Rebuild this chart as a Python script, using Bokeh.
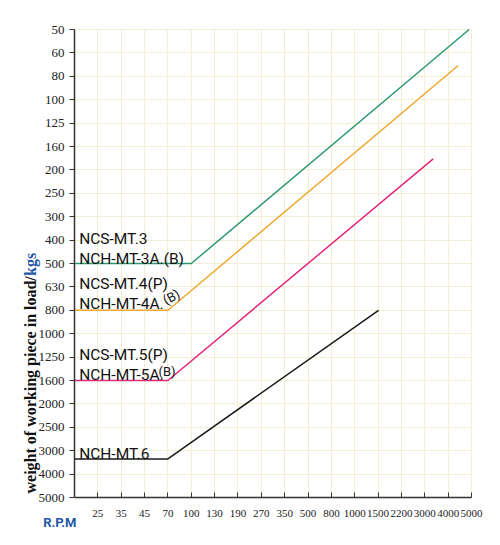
import math
from bokeh.plotting import figure
from bokeh.models import Range1d, FixedTicker, Label, LinearAxis, Grid
from bokeh.embed import file_html
from bokeh.resources import INLINE

# ---- data (axis positions are tick indices; ticks are evenly spaced) ----
rpm_labels = ["25", "35", "45", "70", "100", "130", "190", "270", "350", "500",
              "800", "1000", "1500", "2200", "3000", "4000", "5000"]
load_labels = ["50", "60", "80", "100", "125", "160", "200", "250", "300", "400",
               "500", "630", "800", "1000", "1250", "1600", "2000", "2500", "3000",
               "4000", "5000"]

mt3_x = [0, 5, 16.9]
mt3_y = [10, 10, 0.0]
mt4_x = [0, 4, 16.43]
mt4_y = [12, 12, 1.54]
mt5_x = [0, 4, 15.36]
mt5_y = [15, 15, 5.53]
mt6_x = [0, 4, 13.02]
mt6_y = [18.35, 18.35, 12.0]

# ---- layout geometry (pixels) ----
W, H = 492, 537
left, top = 74, 29
nx = len(rpm_labels)          # 17 x steps
ny = len(load_labels) - 1     # 20 y steps
ux = 397 / nx
uy = 468 / ny

p = figure(frame_width=W, frame_height=H,
           x_range=Range1d(-left / ux, (W - left) / ux),
           y_range=Range1d((H - top) / uy, -top / uy),
           output_backend="svg", toolbar_location=None,
           x_axis_location=None, y_axis_location=None, min_border=0)
p.outline_line_color = None
p.background_fill_color = "white"
p.border_fill_color = "white"
p.xgrid.visible = False
p.ygrid.visible = False

xt = list(range(1, nx + 1))
yt = list(range(0, ny + 1))

grid_color = "#f2efd4"
if "cross_bounds" in Grid.properties():
    p.add_layout(Grid(dimension=0, ticker=FixedTicker(ticks=xt), bounds=(0, nx),
                      cross_bounds=(0, ny), grid_line_color=grid_color))
    p.add_layout(Grid(dimension=1, ticker=FixedTicker(ticks=yt), bounds=(0, ny),
                      cross_bounds=(0, nx), grid_line_color=grid_color))
else:
    p.segment(x0=xt, y0=[0] * len(xt), x1=xt, y1=[ny] * len(xt),
              line_color=grid_color, line_width=1)
    p.segment(x0=[0] * len(yt), y0=yt, x1=[nx] * len(yt), y1=yt,
              line_color=grid_color, line_width=1)

xaxis = LinearAxis(fixed_location=ny, bounds=(0, nx), ticker=FixedTicker(ticks=xt),
                   major_label_overrides={i + 1: s for i, s in enumerate(rpm_labels)})
yaxis = LinearAxis(fixed_location=0, bounds=(0, ny), ticker=FixedTicker(ticks=yt),
                   major_label_overrides={i: s for i, s in enumerate(load_labels)})
for ax in (xaxis, yaxis):
    ax.axis_line_color = "#333333"
    ax.axis_line_width = 1.5
    ax.major_tick_line_color = "#333333"
    ax.major_tick_line_width = 1
    ax.minor_tick_line_color = None
    ax.major_label_text_font = "Liberation Serif"
    ax.major_label_text_color = "#222222"
xaxis.major_tick_in = 5
xaxis.major_tick_out = 0
xaxis.major_label_standoff = 12
xaxis.major_label_text_font_size = "11px"
yaxis.major_tick_in = 0
yaxis.major_tick_out = 5
yaxis.major_label_standoff = 5
yaxis.major_label_text_font_size = "13px"
p.add_layout(xaxis, "below")
p.add_layout(yaxis, "left")

p.line(mt3_x, mt3_y, line_color="#2e9a70", line_width=1.5)
p.line(mt4_x, mt4_y, line_color="#f0a830", line_width=1.5)
p.line(mt5_x, mt5_y, line_color="#e0287a", line_width=1.5)
p.line(mt6_x, mt6_y, line_color="#1a1a1a", line_width=1.5)

fnt = "Roboto"
fs = "15.5px"
def lab(x, y, t, size=fs, angle=0.0, color="#111111", font=fnt, style="normal"):
    p.add_layout(Label(x=x, y=y, text=t, text_font=font, text_font_size=size,
                       text_color=color, text_baseline="middle",
                       text_align="left", angle=angle, text_font_style=style))

lab(0.2, 8.95, "NCS-MT.3")
lab(0.2, 9.81, "NCH-MT-3A.(B)")
lab(0.2, 10.88, "NCS-MT.4(P)")
lab(0.2, 11.74, "NCH-MT-4A.")
lab(3.83, 11.61, "(B)", size="13px", angle=0.5)
lab(0.2, 13.93, "NCS-MT.5(P)")
lab(0.2, 14.78, "NCH-MT-5A.")
lab(3.6, 14.62, "(B)", size="13px")
lab(0.2, 18.12, "NCH-MT.6")

# y-axis title (two colours) and R.P.M caption
lab(-1.884, 19.83, "weight of working piece in load/", size="16px", angle=math.pi / 2,
    font="Liberation Serif", style="bold")
lab(-1.884, 19.83 - 217.5 / uy, "kgs", size="16px", angle=math.pi / 2,
    font="Liberation Serif", style="bold", color="#2457a6")
lab(-1.34, 21.05, "R.P.M", size="13px", font="Roboto", style="bold", color="#2457a6")

open("out.html", "w").write(file_html(p, INLINE))
